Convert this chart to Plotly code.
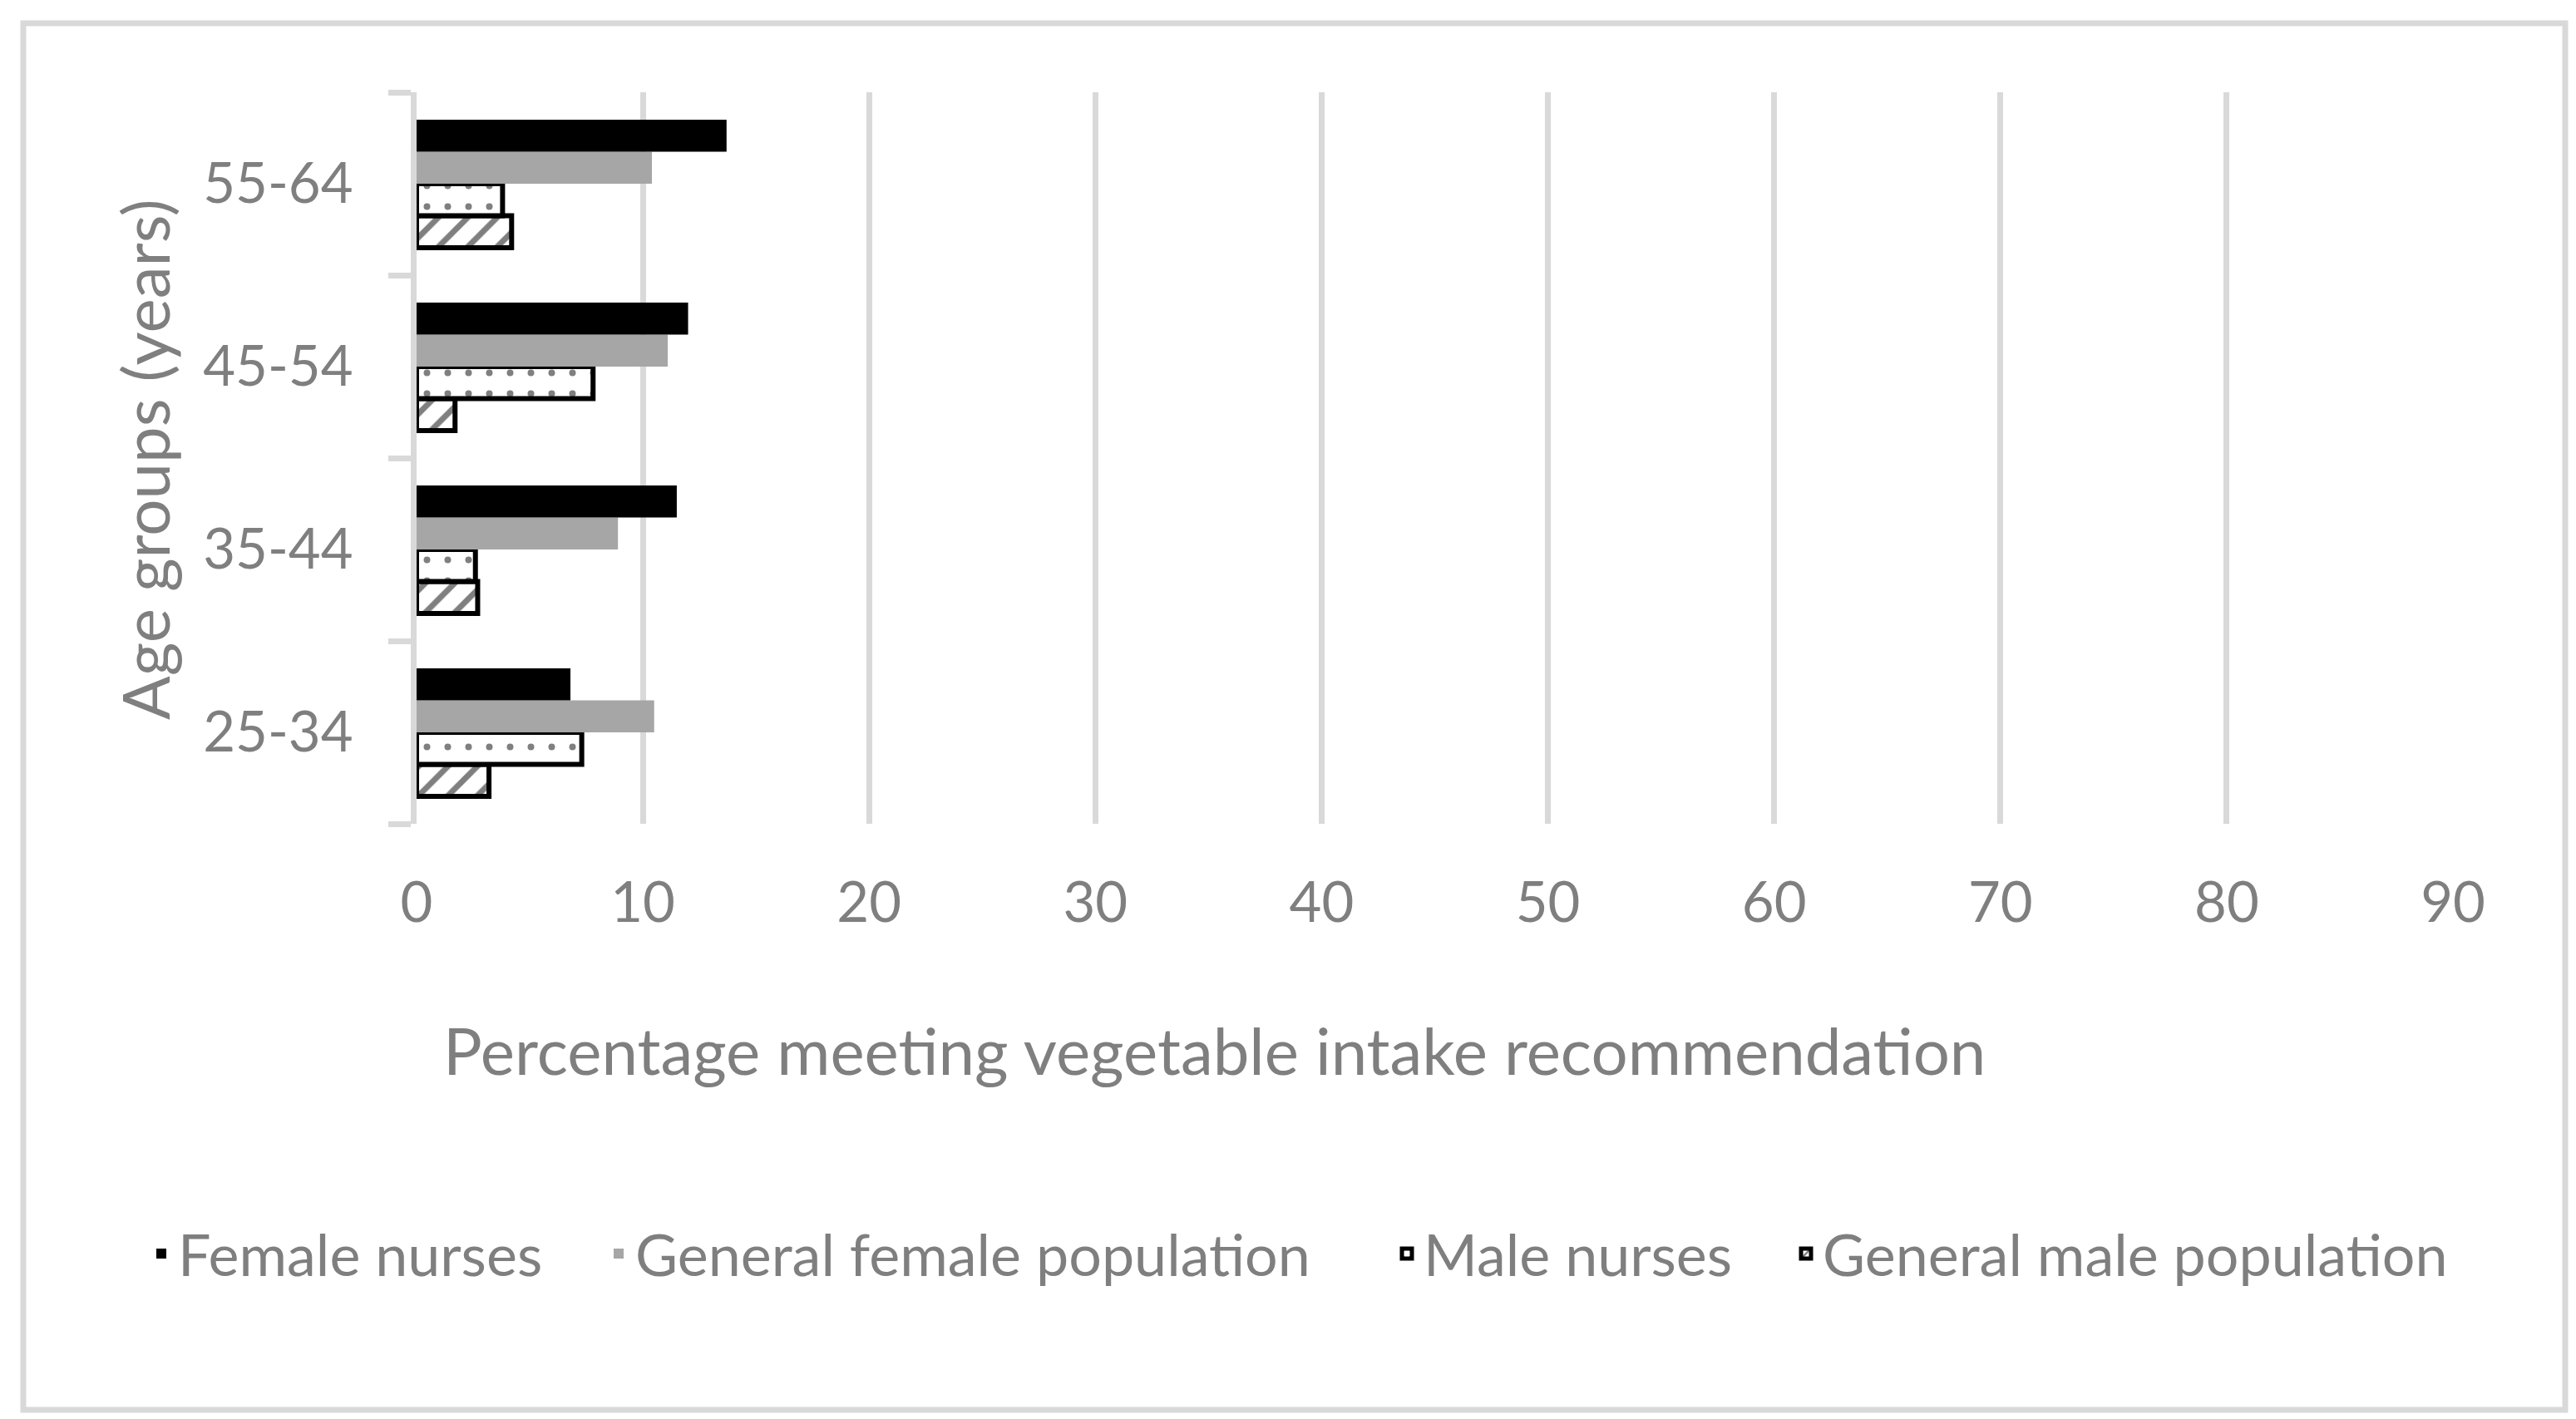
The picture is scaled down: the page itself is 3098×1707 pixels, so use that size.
import plotly.graph_objects as go

# ---- data ----
age_groups = ["25-34", "35-44", "45-54", "55-64"]
female_nurses = [6.8, 11.5, 12.0, 13.7]
general_female = [10.5, 8.9, 11.1, 10.4]
male_nurses = [7.3, 2.6, 7.8, 3.8]
general_male = [3.2, 2.7, 1.7, 4.2]
x_ticks = [0, 10, 20, 30, 40, 50, 60, 70, 80, 90]

# ---- geometry ----
W, H = 3098, 1707
L, R, T, B = 493, 156, 103, 724
PW, PH = W - L - R, H - T - B

def px_to_paper_x(px):
    return (px - L) / PW

def px_to_paper_y(py):
    return (H - B - py) / PH

FONT = "Lato"
TXT = "#7f7f7f"
GRID = "#d9d9d9"
FS_TICK = 67
FS_LEG = 70
FS_TITLE = 78

fig = go.Figure()

fig.add_trace(go.Bar(
    y=age_groups, x=general_male, orientation="h", name="General male population",
    legend="legend4",
    marker=dict(color="white", line=dict(color="black", width=6),
                pattern=dict(shape="/", fgcolor="black", bgcolor="white", size=25, solidity=0.28)),
))
fig.add_trace(go.Bar(
    y=age_groups, x=male_nurses, orientation="h", name="Male nurses",
    legend="legend3",
    marker=dict(color="white", line=dict(color="black", width=6),
                pattern=dict(shape=".", fgcolor="black", bgcolor="white", size=25, solidity=0.08)),
))
fig.add_trace(go.Bar(
    y=age_groups, x=general_female, orientation="h", name="General female population",
    legend="legend2",
    marker=dict(color="#a6a6a6", line=dict(width=0)),
))
fig.add_trace(go.Bar(
    y=age_groups, x=female_nurses, orientation="h", name="Female nurses",
    legend="legend",
    marker=dict(color="black", line=dict(width=0)),
))

leg_y = 1 - 1500 / H
text_starts = [217, 767, 1715, 2195]

def leg(text_x):
    return dict(orientation="h", xref="container", yref="container",
                x=(text_x - 51) / W, xanchor="left", y=leg_y, yanchor="middle",
                font=dict(family=FONT, size=FS_LEG, color=TXT),
                bgcolor="rgba(0,0,0,0)", borderwidth=0)

fig.update_layout(
    width=W, height=H, autosize=False,
    margin=dict(l=L, r=R, t=T, b=B),
    paper_bgcolor="white", plot_bgcolor="white",
    barmode="group", bargap=0.3, bargroupgap=0,
    font=dict(family=FONT, size=FS_TICK, color=TXT),
    showlegend=True,
    legend=leg(text_starts[0]),
    legend2=leg(text_starts[1]),
    legend3=leg(text_starts[2]),
    legend4=leg(text_starts[3]),
    xaxis=dict(range=[0, 90], tickvals=x_ticks, showgrid=True, gridcolor=GRID, gridwidth=7,
               zeroline=False, showline=False, ticks="",
               tickfont=dict(family=FONT, size=FS_TICK, color=TXT), ticklabelstandoff=50),
    yaxis=dict(type="category", showline=True, linecolor=GRID, linewidth=7,
               ticks="outside", tickson="boundaries", ticklen=27, tickwidth=7, tickcolor=GRID,
               showgrid=False, zeroline=False,
               tickfont=dict(family=FONT, size=FS_TICK, color=TXT), ticklabelstandoff=56),
    annotations=[
        dict(text="Percentage meeting vegetable intake recommendation",
             xref="paper", yref="paper", x=px_to_paper_x(1452), y=px_to_paper_y(1255),
             xanchor="center", yanchor="middle", showarrow=False,
             font=dict(family=FONT, size=FS_TITLE, color=TXT)),
        dict(text="Age groups (years)", textangle=-90,
             xref="paper", yref="paper", x=px_to_paper_x(166), y=px_to_paper_y(545),
             xanchor="center", yanchor="middle", showarrow=False,
             font=dict(family=FONT, size=FS_TITLE, color=TXT)),
    ],
    shapes=[dict(type="rect", xref="paper", yref="paper",
                 x0=px_to_paper_x(20), x1=px_to_paper_x(3077),
                 y0=px_to_paper_y(1688), y1=px_to_paper_y(20),
                 line=dict(color=GRID, width=7), fillcolor="rgba(0,0,0,0)", layer="below")],
)

fig.write_html("out.html")
